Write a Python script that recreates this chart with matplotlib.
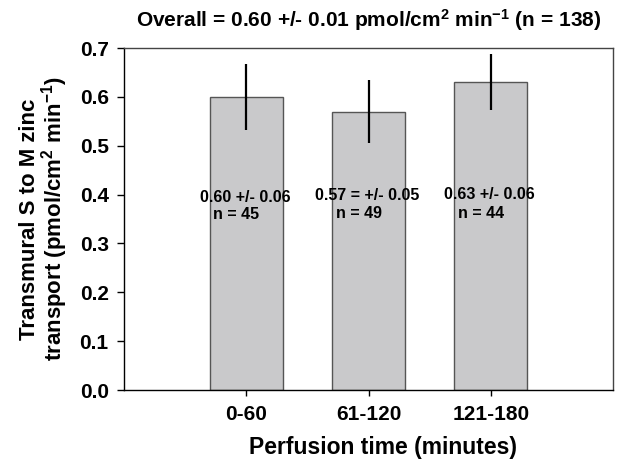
import numpy as np
import matplotlib
matplotlib.use("Agg")
import matplotlib.pyplot as plt

plt.rcParams['font.family'] = ['Liberation Sans', 'DejaVu Sans']
plt.rcParams['font.weight'] = 'bold'
plt.rcParams['mathtext.fontset'] = 'custom'
plt.rcParams['mathtext.rm'] = 'Liberation Sans:bold'
plt.rcParams['mathtext.bf'] = 'Liberation Sans:bold'
plt.rcParams['mathtext.default'] = 'bf'

# data
categories = ['0-60', '61-120', '121-180']
means = [0.60, 0.57, 0.63]
errors = [0.067, 0.065, 0.057]
stat_labels = ['0.60 +/- 0.06', '0.57 = +/- 0.05', '0.63 +/- 0.06']
n_labels = ['n = 45', 'n = 49', 'n = 44']

x = np.arange(1, len(categories) + 1)

fig = plt.figure(figsize=(6.17, 4.61), dpi=100)
ax = fig.add_axes([124 / 617, 1 - 390 / 461, 489 / 617, 342 / 461])

ax.bar(x, means, width=0.6, color='#c9c9cb', edgecolor='#555555', linewidth=1.0, zorder=2)
ax.errorbar(x, means, yerr=errors, fmt='none', ecolor='black', elinewidth=1.6,
            capsize=0, zorder=3)

# annotations inside bars
for xi, s, n, dy in zip(x, stat_labels, n_labels, [0.0, 0.003, 0.006]):
    ax.text(xi - 0.01, 0.395 + dy, s, ha='center', va='center', fontsize=11.5, fontweight='bold')
    ax.text(xi - 0.08, 0.359 + dy / 2, n, ha='center', va='center', fontsize=11.5, fontweight='bold')

ax.set_xlim(0, 4)
ax.set_ylim(0, 0.7)
ax.set_xticks(x)
ax.set_xticklabels(categories)
ax.set_yticks(np.arange(0, 0.71, 0.1))
ax.set_yticklabels([f'{v:.1f}' for v in np.arange(0, 0.71, 0.1)])
ax.tick_params(axis='both', direction='out', labelsize=15, width=1)
ax.tick_params(axis='y', length=5, pad=6)
ax.tick_params(axis='x', length=4, pad=7)
for lbl in ax.get_xticklabels() + ax.get_yticklabels():
    lbl.set_fontweight('bold')

for sp in ['left', 'bottom']:
    ax.spines[sp].set_color('black')
    ax.spines[sp].set_linewidth(1.0)
for sp in ['top', 'right']:
    ax.spines[sp].set_color('#444444')
    ax.spines[sp].set_linewidth(1.0)

ax.set_xlabel('Perfusion time (minutes)', fontsize=16.5, fontweight='bold')
ax.xaxis.set_label_coords(0.53, -0.135)
ax.set_ylabel('Transmural S to M zinc\ntransport (pmol/cm$^2$ min$^{-1}$)',
              fontsize=16, fontweight='bold', labelpad=7, linespacing=0.95)
ax.set_title('Overall = 0.60 +/- 0.01 pmol/cm$^2$ min$^{-1}$ (n = 138)',
             fontsize=15, fontweight='bold', pad=15)

fig.savefig('out.png', dpi=100)
